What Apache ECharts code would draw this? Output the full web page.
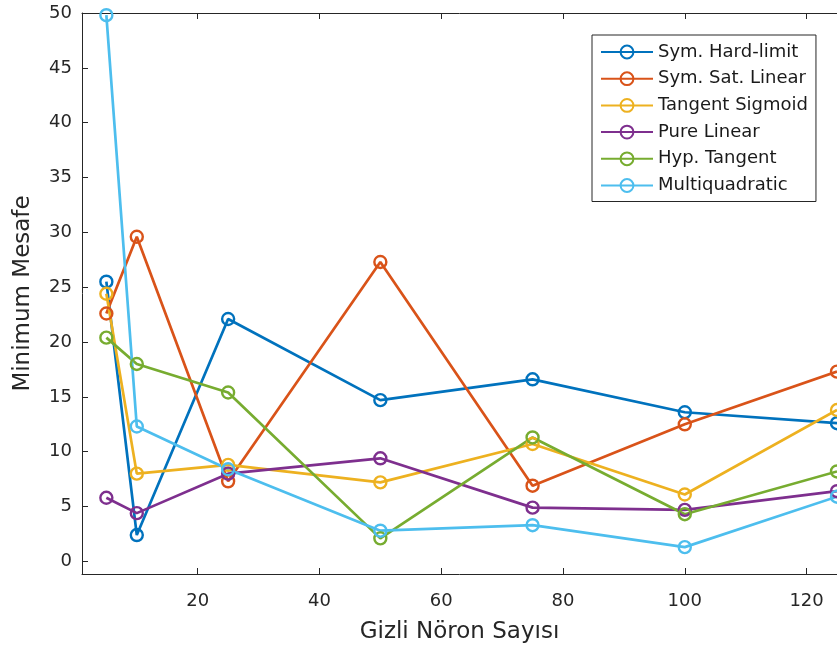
<!DOCTYPE html>
<html>
<head>
<meta charset="utf-8">
<script src="https://cdn.jsdelivr.net/npm/echarts@6/dist/echarts.min.js"></script>
<style>
html,body{margin:0;padding:0;background:#fff;}
#chart{width:837px;height:651px;}
</style>
</head>
<body>
<div id="chart"></div>
<script>
// Data
const xValues = [5, 10, 25, 50, 75, 100, 125];
const seriesNames = ['Sym. Hard-limit', 'Sym. Sat. Linear', 'Tangent Sigmoid', 'Pure Linear', 'Hyp. Tangent', 'Multiquadratic'];
const hardLimit = [25.5, 2.4, 22.1, 14.7, 16.6, 13.6, 12.6];
const satLinear = [22.6, 29.6, 7.3, 27.3, 6.9, 12.5, 17.3];
const tanSigmoid = [24.4, 8.0, 8.8, 7.2, 10.7, 6.1, 13.8];
const pureLinear = [5.8, 4.4, 8.0, 9.4, 4.9, 4.7, 6.4];
const hypTangent = [20.4, 18.0, 15.4, 2.1, 11.3, 4.3, 8.2];
const multiquadratic = [49.8, 12.3, 8.4, 2.8, 3.3, 1.3, 5.9];
const xTicks = [20, 40, 60, 80, 100, 120];
const yTicks = [0, 5, 10, 15, 20, 25, 30, 35, 40, 45, 50];
const colors = ['#0072BD', '#D95319', '#EDB120', '#7E2F8E', '#77AC30', '#4DBEEE'];

const allValues = [hardLimit, satLinear, tanSigmoid, pureLinear, hypTangent, multiquadratic];
const font = 'DejaVu Sans';
const axisColor = '#262626';

const chart = echarts.init(document.getElementById('chart'));

const series = allValues.map((vals, i) => ({
  name: seriesNames[i],
  type: 'line',
  data: xValues.map((x, j) => [x, vals[j]]),
  symbol: 'circle',
  symbolSize: 12,
  showAllSymbol: true,
  clip: false,
  lineStyle: { color: colors[i], width: 2.7 },
  itemStyle: { color: 'rgba(255,255,255,0)', borderColor: colors[i], borderWidth: 2.4 },
  emphasis: { disabled: true },
  animation: false
}));

const option = {
  animation: false,
  backgroundColor: '#fff',
  textStyle: { fontFamily: font },
  grid: { left: 82, top: 13, width: 756, height: 561, containLabel: false },
  legend: {
    orient: 'vertical',
    left: 592,
    top: 35,
    padding: [8, 8, 7, 8],
    itemWidth: 52,
    itemHeight: 16,
    itemGap: 8.7,
    borderColor: axisColor,
    borderWidth: 1,
    backgroundColor: '#fff',
    textStyle: { fontFamily: font, fontSize: 18, color: '#1a1a1a' },
    data: seriesNames
  },
  xAxis: [{
    type: 'value',
    min: 1,
    max: 125,
    position: 'bottom',
    name: 'Gizli Nöron Sayısı',
    nameLocation: 'middle',
    nameGap: 47,
    nameTextStyle: { fontFamily: font, fontSize: 23, color: axisColor },
    axisLine: { show: true, onZero: false, lineStyle: { color: axisColor, width: 1 } },
    axisTick: { show: true, inside: true, length: 6, customValues: xTicks, lineStyle: { color: axisColor } },
    axisLabel: { show: true, margin: 18, customValues: xTicks, fontFamily: font, fontSize: 18, color: axisColor },
    splitLine: { show: false }
  }, {
    type: 'value',
    min: 1,
    max: 125,
    position: 'top',
    axisLine: { show: true, onZero: false, lineStyle: { color: axisColor, width: 1 } },
    axisTick: { show: true, inside: true, length: 6, customValues: xTicks, lineStyle: { color: axisColor } },
    axisLabel: { show: false },
    splitLine: { show: false }
  }],
  yAxis: [{
    type: 'value',
    min: -1.15,
    max: 50,
    position: 'left',
    name: 'Minimum Mesafe',
    nameLocation: 'middle',
    nameGap: 47,
    nameRotate: 90,
    nameTextStyle: { fontFamily: font, fontSize: 23, color: axisColor },
    axisLine: { show: true, onZero: false, lineStyle: { color: axisColor, width: 1 } },
    axisTick: { show: true, inside: true, length: 6, customValues: yTicks, lineStyle: { color: axisColor } },
    axisLabel: { show: true, margin: 10, customValues: yTicks, fontFamily: font, fontSize: 18, color: axisColor },
    splitLine: { show: false }
  }],
  series: series
};

chart.setOption(option);
</script>
</body>
</html>
